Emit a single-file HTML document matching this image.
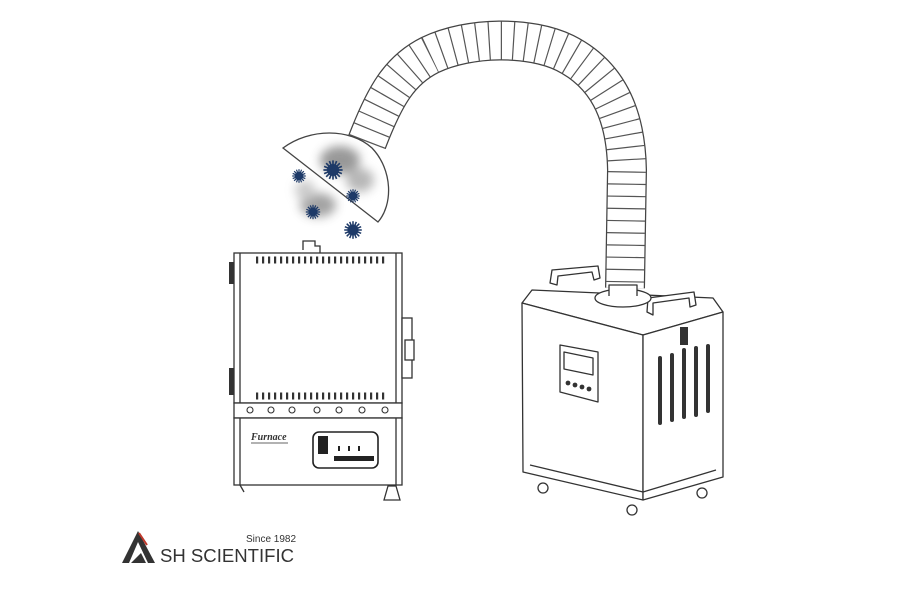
<!DOCTYPE html>
<html><head><meta charset="utf-8"><style>
html,body{margin:0;padding:0;background:#fff;width:920px;height:600px;overflow:hidden}
svg{display:block}
</style></head><body>
<svg width="920" height="600" viewBox="0 0 920 600" xmlns="http://www.w3.org/2000/svg">
<defs>
<filter id="bl" x="-50%" y="-50%" width="200%" height="200%"><feGaussianBlur stdDeviation="5"/></filter>
<g id="vir">
<circle r="5" fill="#1e3a68"/>
<g stroke="#1e3a68" stroke-width="1.4">
<line x1="0" y1="-8" x2="0" y2="8"/><line x1="-8" y1="0" x2="8" y2="0"/>
<line x1="-5.7" y1="-5.7" x2="5.7" y2="5.7"/><line x1="-5.7" y1="5.7" x2="5.7" y2="-5.7"/>
<line x1="-3" y1="-7.4" x2="3" y2="7.4"/><line x1="3" y1="-7.4" x2="-3" y2="7.4"/>
<line x1="-7.4" y1="-3" x2="7.4" y2="3"/><line x1="-7.4" y1="3" x2="7.4" y2="-3"/>
</g></g>
</defs>
<rect width="920" height="600" fill="#fff"/>

<!-- Hose -->
<g fill="none">
<path d="M367,142 C385,95 400,70 430,55 C470,36 530,36 565,53 C605,73 626,110 627,170 L625,288" stroke="#444" stroke-width="40"/>
<path d="M367,142 C385,95 400,70 430,55 C470,36 530,36 565,53 C605,73 626,110 627,170 L625,288" stroke="#fff" stroke-width="37.5"/>
<path d="M367,142 C385,95 400,70 430,55 C470,36 530,36 565,53 C605,73 626,110 627,170 L625,288" stroke="#555" stroke-width="38" stroke-dasharray="1.2 11"/>
</g>

<!-- Hood -->
<path d="M283,148 L378,222 C393,205 393,170 372,148 C350,128 310,128 283,148 Z" fill="#fff" stroke="#444" stroke-width="1.3"/>
<g filter="url(#bl)" opacity="0.6">
<ellipse cx="340" cy="160" rx="20" ry="14" fill="#555"/>
<ellipse cx="318" cy="205" rx="18" ry="12" fill="#666"/>
<ellipse cx="360" cy="180" rx="14" ry="12" fill="#888"/>
<ellipse cx="305" cy="190" rx="10" ry="10" fill="#aaa"/>
</g>
<use href="#vir" transform="translate(333,170) scale(1.2)"/>
<use href="#vir" transform="translate(299,176) scale(0.85)"/>
<use href="#vir" transform="translate(353,196) scale(0.85)"/>
<use href="#vir" transform="translate(313,212) scale(0.9)"/>
<use href="#vir" transform="translate(353,230) scale(1.1)"/>

<!-- Furnace -->
<g stroke="#333" stroke-width="1.3" fill="#fff">
<path d="M303,250 L303,241 L315,241 L315,246 L320,246 L320,253" fill="none"/>
<rect x="234" y="253" width="168" height="150"/>
<line x1="240" y1="253" x2="240" y2="403"/>
<line x1="396" y1="253" x2="396" y2="403"/>
<rect x="234" y="403" width="168" height="15"/>
<rect x="234" y="418" width="168" height="67"/>
<line x1="240" y1="418" x2="240" y2="485"/>
<line x1="396" y1="418" x2="396" y2="485"/>
<rect x="402" y="318" width="10" height="60"/>
<rect x="405" y="340" width="9" height="20"/>
<path d="M384,500 L388,486 L396,486 L400,500 Z"/>
<path d="M240,485 L244,492"/>
</g>
<g fill="#333">
<rect x="229" y="262" width="5" height="22"/><rect x="229" y="368" width="5" height="27"/>
</g>
<g stroke="#333" stroke-dasharray="2.2 3.8">
<line x1="256" y1="260" x2="386" y2="260" stroke-width="7"/>
<line x1="256" y1="396" x2="386" y2="396" stroke-width="7"/>
</g>
<g fill="#fff" stroke="#333" stroke-width="1.1">
<circle cx="250" cy="410" r="3"/><circle cx="271" cy="410" r="3"/><circle cx="292" cy="410" r="3"/><circle cx="317" cy="410" r="3"/><circle cx="339" cy="410" r="3"/><circle cx="362" cy="410" r="3"/><circle cx="385" cy="410" r="3"/>
</g>
<text x="251" y="440" font-family="Liberation Serif, serif" font-style="italic" font-weight="bold" font-size="10" fill="#333">Furnace</text>
<line x1="251" y1="443" x2="288" y2="443" stroke="#333" stroke-width="0.8"/>
<rect x="313" y="432" width="65" height="36" rx="6" fill="#fff" stroke="#222" stroke-width="1.6"/>
<rect x="318" y="436" width="10" height="18" fill="#222"/>
<g fill="#222"><rect x="334" y="456" width="40" height="5"/><rect x="338" y="446" width="2" height="5"/><rect x="348" y="446" width="2" height="5"/><rect x="358" y="446" width="2" height="5"/></g>

<!-- Collector -->
<g stroke="#333" stroke-width="1.3" fill="#fff" stroke-linejoin="round">
<path d="M522,303 L532,290 L713,298 L723,312 L643,335 Z"/>
<path d="M522,303 L643,335 L643,500 L523,472 Z"/>
<path d="M643,335 L723,312 L723,477 L643,500 Z"/>
<path d="M530,465 L643,492 L716,470" fill="none"/>
<path d="M560,345 L598,352 L598,402 L560,392 Z"/>
<path d="M564,352 L593,358 L593,375 L564,369 Z"/>
<path d="M550,283 L552,270 L598,266 L600,278 L594,280 L592,272 L558,276 L557,285 Z"/>
<path d="M647,312 L648,298 L694,292 L696,305 L690,307 L689,298 L653,303 L653,315 Z"/>
<ellipse cx="623" cy="298" rx="28" ry="9"/>
<path d="M609,296 L609,285 L637,285 L637,296" />
<circle cx="543" cy="488" r="5"/><circle cx="632" cy="510" r="5"/><circle cx="702" cy="493" r="5"/>
</g>
<g fill="#333"><circle cx="568" cy="383" r="2.4"/><circle cx="575" cy="385" r="2.4"/><circle cx="582" cy="387" r="2.4"/><circle cx="589" cy="389" r="2.4"/></g>
<g stroke="#333" stroke-width="4" stroke-linecap="round">
<line x1="660" y1="358" x2="660" y2="423"/><line x1="672" y1="355" x2="672" y2="420"/><line x1="684" y1="350" x2="684" y2="417"/><line x1="696" y1="348" x2="696" y2="415"/><line x1="708" y1="346" x2="708" y2="411"/>
</g>
<rect x="680" y="327" width="8" height="18" fill="#333"/>

<!-- Logo -->
<path d="M122,563 L138,531 L155,563 L148,563 L138,542 L129,563 Z" fill="#333"/>
<path d="M131,563 L141,553 L146,563 Z" fill="#333"/>
<path d="M139,533 L147,545" stroke="#c0392b" stroke-width="2"/>
<text x="246" y="542" font-family="Liberation Sans, sans-serif" font-size="10" fill="#333">Since 1982</text>
<text x="160" y="562" font-family="Liberation Sans, sans-serif" font-size="18" fill="#333" textLength="134" lengthAdjust="spacingAndGlyphs">SH SCIENTIFIC</text>
</svg>
</body></html>
